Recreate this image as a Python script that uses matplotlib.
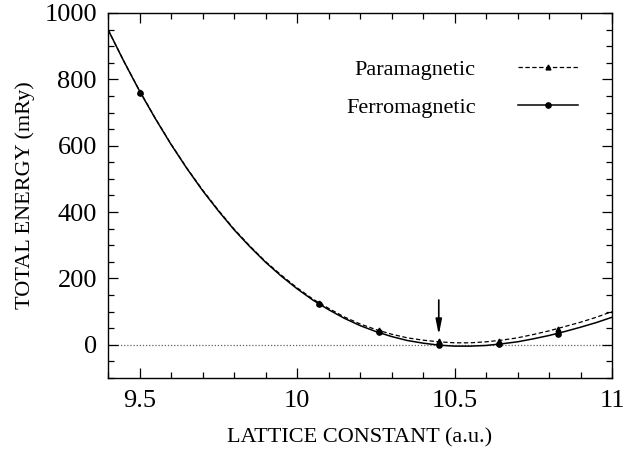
import matplotlib
matplotlib.use('Agg')
import matplotlib.pyplot as plt
from matplotlib.ticker import MultipleLocator

# ─── DATA ────────────────────────────────────────────────────────────────────

# fitted curves, sampled every 0.05 a.u.
curve_a = [9.40, 9.45, 9.50, 9.55, 9.60, 9.65, 9.70, 9.75, 9.80, 9.85, 9.90,
           9.95, 10.00, 10.05, 10.10, 10.15, 10.20, 10.25, 10.30, 10.35,
           10.40, 10.45, 10.50, 10.55, 10.60, 10.65, 10.70, 10.75, 10.80,
           10.85, 10.90, 10.95, 11.00]
ferro_curve = [950, 855, 765, 682, 604, 532, 465, 404, 347, 296, 249, 207,
               169, 135, 106, 80, 58, 40, 25, 13, 5, -1, -4, -4, -2, 3, 9,
               18, 28, 40, 53, 67, 83]
para_curve = [950, 855, 766, 683, 605, 533, 467, 406, 349, 298, 251, 210,
              172, 138, 110, 84, 63, 46, 32, 21, 14, 9, 6, 6, 9, 14, 21,
              31, 42, 55, 68, 83, 100]

# calculated points
pts_a = [9.50, 10.07, 10.26, 10.45, 10.64, 10.83]
ferro_pts = [760, 122, 40, 0, 2, 34]
para_pts = [762, 125, 45, 10, 12, 48]

# equilibrium marker
arrow_a = 10.45
arrow_top, arrow_tip = 135, 30

# ─── PLOT ────────────────────────────────────────────────────────────────────

plt.rcParams['font.family'] = ['Liberation Serif', 'DejaVu Serif']

fig = plt.figure(figsize=(6.41, 4.51), dpi=100)
ax = fig.add_axes([0.1685, 0.1619, 0.7863, 0.8093])

ax.axhline(0, color='#606060', linestyle=(0, (1, 1.5)), linewidth=0.9, zorder=1)

ax.plot(curve_a, para_curve, color='black', linestyle=(0, (3.5, 2)),
        linewidth=0.9, zorder=3)
ax.plot(curve_a, ferro_curve, color='black', linestyle='-',
        linewidth=1.1, zorder=3)
ax.plot(pts_a, para_pts, linestyle='none', marker='^', markersize=3.5,
        color='black', zorder=4)
ax.plot(pts_a, ferro_pts, linestyle='none', marker='o', markersize=3.8,
        color='black', zorder=4)

# legend proxies (line with the marker in the middle)
ax.plot([], [], color='black', linestyle=(0, (3.5, 2)), linewidth=0.9,
        marker='^', markersize=3.5, label='Paramagnetic')
ax.plot([], [], color='black', linestyle='-', linewidth=1.1,
        marker='o', markersize=3.8, label='Ferromagnetic')
leg = ax.legend(loc='upper right', bbox_to_anchor=(0.9325, 0.874),
                frameon=False, markerfirst=False, handlelength=2.7,
                fontsize=16, labelspacing=0.8, handletextpad=1.9,
                borderpad=0, borderaxespad=0, numpoints=1)

ax.annotate('', xy=(arrow_a, arrow_tip), xytext=(arrow_a, arrow_top),
            arrowprops=dict(arrowstyle='-|>,head_width=0.18,head_length=0.9',
                            color='black', lw=1.2, shrinkA=0, shrinkB=0),
            zorder=5)

ax.set_xlim(9.4, 11)
ax.set_ylim(-100, 1000)
ax.xaxis.set_minor_locator(MultipleLocator(0.1))
ax.yaxis.set_major_locator(MultipleLocator(200))
ax.yaxis.set_minor_locator(MultipleLocator(50))
ax.set_xticks([9.5, 10, 10.5, 11])
ax.set_xticklabels(['9.5', '10', '10.5', '11'])
ax.tick_params(which='both', direction='in', top=True, right=True,
               labelsize=19, width=0.9)
ax.tick_params(which='major', length=7)
ax.tick_params(axis='x', which='major', pad=9)
ax.tick_params(axis='y', which='major', pad=8)
ax.tick_params(which='minor', length=4)
for spine in ax.spines.values():
    spine.set_linewidth(1.0)

ax.set_xlabel('LATTICE CONSTANT (a.u.)', fontsize=16, labelpad=11)
ax.set_ylabel('TOTAL ENERGY (mRy)', fontsize=16, labelpad=7)

fig.savefig('out.png', dpi=100, facecolor='white')
plt.close(fig)
